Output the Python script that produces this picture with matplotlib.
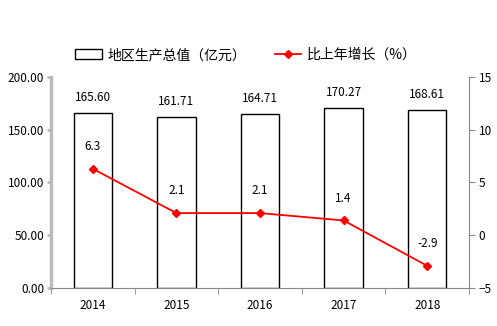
import matplotlib
matplotlib.use("Agg")
import matplotlib.pyplot as plt
import numpy as np

plt.rcParams['font.family'] = ['Noto Sans CJK SC', 'DejaVu Sans']

years = ["2014", "2015", "2016", "2017", "2018"]
gdp = [165.60, 161.71, 164.71, 170.27, 168.61]
growth = [6.3, 2.1, 2.1, 1.4, -2.9]

fig = plt.figure(figsize=(4.97, 3.26), dpi=100)
ax = fig.add_axes([0.1026, 0.1166, 0.8411, 0.6472])
x = np.arange(len(years))

bars = ax.bar(x, gdp, width=0.46, color="white", edgecolor="black", linewidth=1.0,
              label="地区生产总值（亿元）", zorder=2)
for xi, v in zip(x, gdp):
    ax.text(xi, v + 9, f"{v:.2f}", ha="center", va="bottom", fontsize=8.5)

ax.set_xlim(-0.5, len(years) - 0.5)
ax.set_ylim(0, 200)
ax.set_yticks(np.arange(0, 201, 50))
ax.set_yticklabels([f"{v:.2f}" for v in np.arange(0, 201, 50)], fontsize=8.5)
ax.set_xticks(x)
ax.set_xticklabels(years, fontsize=8.5)
ax.set_xticks(np.arange(-0.5, len(years), 1), minor=True)
ax.tick_params(axis="x", which="major", length=0, pad=8)
ax.tick_params(axis="x", which="minor", length=4, color="#888888")
ax.tick_params(axis="y", length=3, color="#bbbbbb", width=2, pad=2)
ax.spines["top"].set_visible(False)
ax.spines["right"].set_visible(False)
ax.spines["left"].set_color("#bbbbbb")
ax.spines["left"].set_linewidth(2.5)
ax.spines["bottom"].set_color("#888888")

ax2 = ax.twinx()
ax2.plot(x, growth, color="red", marker="D", markersize=4.5, linewidth=1.3,
         label="比上年增长（%）", zorder=3)
for xi, v in zip(x, growth):
    ax2.text(xi, v + 1.5, f"{v:.1f}", ha="center", va="bottom", fontsize=8.5)
ax2.set_ylim(-5, 15)
ax2.set_yticks([-5, 0, 5, 10, 15])
ax2.tick_params(axis="y", length=4, color="#888888", labelsize=8.5, pad=3)
for s in ["top", "left", "bottom"]:
    ax2.spines[s].set_visible(False)
ax2.spines["right"].set_color("#888888")

h1, l1 = ax.get_legend_handles_labels()
h2, l2 = ax2.get_legend_handles_labels()
fig.legend(h1 + h2, l1 + l2, loc="center", bbox_to_anchor=(0.495, 0.831), ncol=2,
           frameon=False, fontsize=10, handlelength=1.9, handleheight=0.7,
           handletextpad=0.4, columnspacing=2.1)

fig.savefig("out.png", dpi=100)
